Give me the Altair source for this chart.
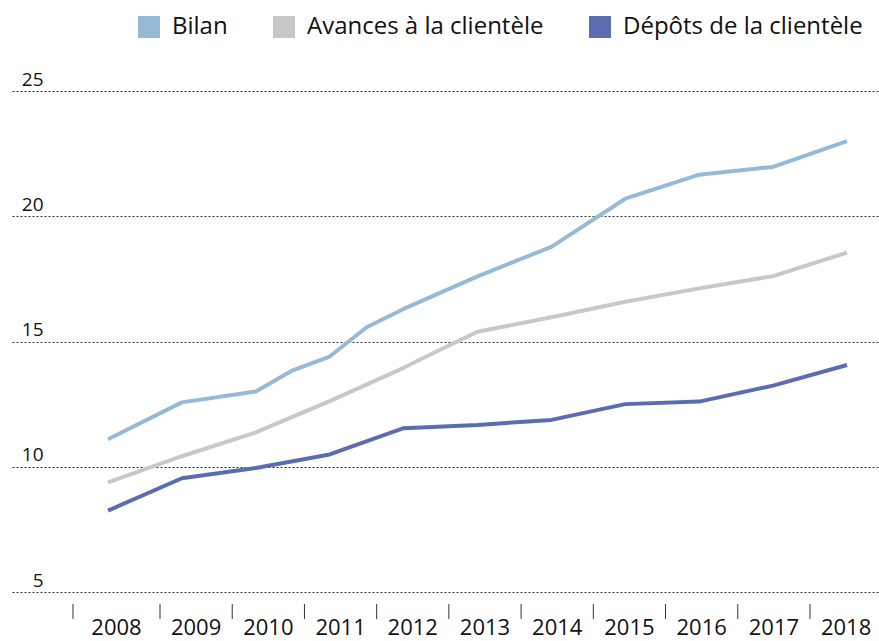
import altair as alt
import pandas as pd

# ---- data ----
series_names = ["Bilan", "Avances à la clientèle", "Dépôts de la clientèle"]
series_colors = ["#96bad6", "#c8c8c8", "#5b6daf"]

bilan_t = [2008, 2009, 2010, 2010.5, 2011, 2011.5, 2012, 2013, 2014, 2015, 2016, 2017, 2018]
bilan_v = [11.1, 12.57, 13.0, 13.85, 14.4, 15.57, 16.3, 17.6, 18.78, 20.7, 21.66, 21.97, 23.0]

avances_t = [2008, 2009, 2010, 2011, 2012, 2012.5, 2013, 2014, 2015, 2016, 2017, 2018]
avances_v = [9.38, 10.42, 11.37, 12.62, 13.95, 14.68, 15.39, 15.97, 16.59, 17.12, 17.61, 18.55]

depots_t = [2008, 2009, 2010, 2011, 2012, 2013, 2014, 2015, 2016, 2017, 2018]
depots_v = [8.25, 9.54, 9.95, 10.49, 11.54, 11.67, 11.87, 12.5, 12.6, 13.24, 14.06]

year_labels = [2008, 2009, 2010, 2011, 2012, 2013, 2014, 2015, 2016, 2017, 2018]
y_ticks = [5, 10, 15, 20, 25]

# ---- tables ----
rows = []
for name, ts, vs in zip(series_names, [bilan_t, avances_t, depots_t], [bilan_v, avances_v, depots_v]):
    for t, v in zip(ts, vs):
        rows.append({"series": name, "year": t, "value": v})
df = pd.DataFrame(rows)

axis_start = 2007.295
tick_pos = [axis_start] + [y + 0.5 for y in year_labels[:-1]]
band_right = tick_pos[1:] + [year_labels[-1] + 0.5]
ticks_df = pd.DataFrame({"pos": tick_pos})
labels_df = pd.DataFrame({
    "pos": [(a + b) / 2 for a, b in zip(tick_pos, band_right)],
    "label": [str(y) for y in year_labels],
})
legend_df = pd.DataFrame({"series": series_names})

FONT = "Open Sans"
W, H = 867, 501

cscale = alt.Scale(domain=series_names, range=series_colors)
line_x = alt.Scale(domain=[2006.701, 2018.433], nice=False, zero=False)
axis_x = alt.Scale(domain=[2006.4507, 2018.4556], nice=False, zero=False)

lines = alt.Chart(df).mark_line(strokeWidth=4, strokeJoin="round").encode(
    x=alt.X("year:Q", scale=line_x, axis=None),
    y=alt.Y("value:Q", scale=alt.Scale(domain=[5, 25], nice=False, zero=False),
            axis=alt.Axis(values=y_ticks, title=None, grid=True, gridDash=[2, 2],
                          gridColor="#333333", gridWidth=1, ticks=False, domain=False,
                          labelAlign="right", labelBaseline="alphabetic",
                          labelPadding=-31, labelOffset=-6, labelFont=FONT,
                          labelFontSize=19, labelColor="#111111")),
    color=alt.Color("series:N", scale=cscale, legend=None),
    detail="series:N",
)

legend_layer = alt.Chart(legend_df).mark_rect().encode(
    x=alt.value(0), x2=alt.value(0), y=alt.value(0), y2=alt.value(0),
    color=alt.Color("series:N", scale=cscale, sort=series_names,
                    legend=alt.Legend(title=None, orient="none", legendX=125, legendY=-76,
                                      direction="horizontal", symbolType="square",
                                      symbolSize=484, symbolStrokeWidth=0,
                                      labelFont=FONT, labelFontSize=24,
                                      labelColor="#111111", labelOffset=11,
                                      columnPadding=44, labelLimit=500, padding=0)),
)

tick_rules = alt.Chart(ticks_df).mark_rule(color="#333333", strokeWidth=1).encode(
    x=alt.X("pos:Q", scale=axis_x, axis=None),
    y=alt.value(513), y2=alt.value(528),
)

tick_labels = alt.Chart(labels_df).mark_text(font=FONT, fontSize=22, color="#111111",
                                             align="center", baseline="alphabetic").encode(
    x=alt.X("pos:Q", scale=axis_x, axis=None),
    y=alt.value(544),
    text="label:N",
)

chart = alt.layer(lines, legend_layer, tick_rules, tick_labels).resolve_scale(
    x="independent", color="independent"
).properties(
    width=W, height=H,
    autosize=alt.AutoSizeParams(type="none"),
    padding={"left": 12, "top": 91, "right": 0, "bottom": 49},
).configure_view(strokeWidth=0)

chart.save("out.html", embed_options={"renderer": "svg", "actions": False})
